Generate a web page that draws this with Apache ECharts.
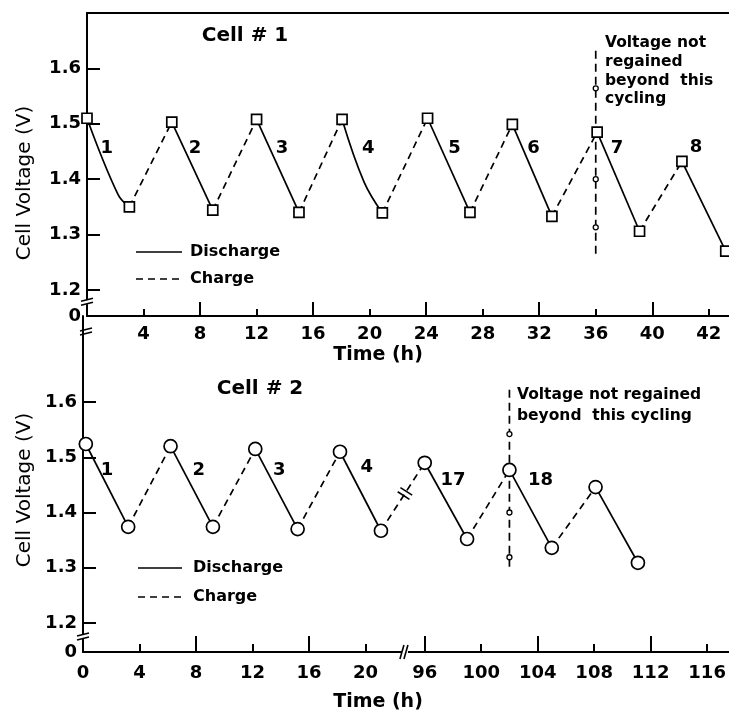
<!DOCTYPE html>
<html><head><meta charset="utf-8">
<script src="https://cdn.jsdelivr.net/npm/echarts@6/dist/echarts.min.js"></script>
<style>html,body{margin:0;padding:0;background:#fff}#c{width:729px;height:712px}</style>
</head><body><div id="c"></div>
<script>
// ---------- Cell #1 (top panel) ----------
const cell1Time = [0, 3.0, 6.0, 8.9, 12.0, 15.0, 18.05, 20.9, 24.1, 27.1, 30.1, 32.9, 36.1, 39.1, 42.1, 45.2];
const cell1Volt = [1.51, 1.35, 1.503, 1.344, 1.508, 1.34, 1.508, 1.339, 1.51, 1.34, 1.499, 1.333, 1.485, 1.306, 1.432, 1.27];
// bend points on curved discharge segments: [segment index, time, voltage]
const cell1Bends = [[0, 2.2, 1.372], [6, 19.6, 1.395]];
const cell1CycleNames = ['1', '2', '3', '4', '5', '6', '7', '8'];
const cell1CycleTime = [1.4, 7.64, 13.8, 19.9, 26.0, 31.6, 37.5, 43.1];
const cell1CycleVolt = [1.456, 1.456, 1.456, 1.456, 1.456, 1.456, 1.456, 1.458];
const cell1LimitTime = 36;
const cell1LimitSpan = [1.632, 1.26];
const cell1LimitDots = [1.564, 1.40, 1.313];
const cell1TickValues = [4, 8, 12, 16, 20, 24, 28, 32, 36, 40, 44];
const cell1TickLabels = ['4', '8', '12', '16', '20', '24', '28', '32', '36', '40', '42'];

// ---------- Cell #2 (bottom panel) ----------
const cell2Time = [0.2, 3.2, 6.2, 9.2, 12.2, 15.2, 18.2, 21.1, 96.0, 99.0, 102.0, 105.0, 108.1, 111.1];
const cell2Volt = [1.524, 1.374, 1.52, 1.374, 1.515, 1.37, 1.51, 1.367, 1.49, 1.352, 1.477, 1.336, 1.446, 1.309];
const cell2CycleNames = ['1', '2', '3', '4', '17', '18'];
const cell2CycleTime = [1.7, 8.2, 13.9, 20.1, 98.0, 104.2];
const cell2CycleVolt = [1.477, 1.477, 1.477, 1.482, 1.459, 1.459];
const cell2LimitTime = 102;
const cell2LimitSpan = [1.622, 1.296];
const cell2LimitDots = [1.542, 1.40, 1.319];
const cell2TickValues = [0, 4, 8, 12, 16, 20, 96, 100, 104, 108, 112, 116];
const cell2TickLabels = ['0', '4', '8', '12', '16', '20', '96', '100', '104', '108', '112', '116'];

const yTickValues = [1.2, 1.3, 1.4, 1.5, 1.6];
const yTickLabels = ['1.2', '1.3', '1.4', '1.5', '1.6'];

// ---------- layout constants ----------
const FONT = 'DejaVu Sans';
const BLACK = '#000';
const TOP_YMIN = 1.153, TOP_YMAX = 1.70;
const BOT_YMIN = 1.1475, BOT_YMAX = 1.7557;
const TOP_XMAX = 45.43, BOT_XMAX = 45.75;
const GAP_SHIFT = 71.8;      // time removed by the axis break in the bottom panel
const GAP_AT = 22.8;          // compressed time where the break marks sit
const mapT2 = t => (t > 50 ? t - GAP_SHIFT : t);
const unmapT2 = v => (v > 23 ? v + GAP_SHIFT : v);
const idT = t => t;
const F = (size, weight) => (weight || 'bold') + ' ' + size + 'px "' + FONT + '"';

function lookup(values, labels) {
  return v => {
    for (let i = 0; i < values.length; i++) if (Math.abs(values[i] - v) < 1e-6) return labels[i];
    return '';
  };
}

function segmentSeries(times, volts, mapX, xi, yi, bends) {
  const out = [];
  for (let i = 0; i < times.length - 1; i++) {
    const discharge = i % 2 === 0;
    const pts = [[mapX(times[i]), volts[i]]];
    bends.filter(b => b[0] === i).forEach(b => pts.push([mapX(b[1]), b[2]]));
    pts.push([mapX(times[i + 1]), volts[i + 1]]);
    out.push({
      type: 'line', name: discharge ? 'Discharge' : 'Charge',
      xAxisIndex: xi, yAxisIndex: yi, data: pts, symbol: 'none',
      smooth: pts.length > 2 ? 0.4 : false, silent: true, z: 3,
      lineStyle: { color: BLACK, width: 1.7, type: discharge ? 'solid' : [7, 5] }
    });
  }
  return out;
}

function markerSeries(times, volts, mapX, xi, yi, symbol, size) {
  return {
    type: 'scatter', xAxisIndex: xi, yAxisIndex: yi, symbol: symbol, symbolSize: size, z: 5, silent: true,
    data: times.map((t, i) => [mapX(t), volts[i]]),
    itemStyle: { color: '#fff', borderColor: BLACK, borderWidth: 1.7, opacity: 1 }
  };
}

function cycleLabelSeries(names, times, volts, mapX, xi, yi) {
  return {
    type: 'scatter', xAxisIndex: xi, yAxisIndex: yi, symbolSize: 1, z: 6, silent: true,
    itemStyle: { color: '#fff', opacity: 1 },
    data: times.map((t, i) => [mapX(t), volts[i]]),
    label: { show: true, position: [0.5, 0.5], align: 'center', verticalAlign: 'middle',
      formatter: p => names[p.dataIndex],
      fontFamily: FONT, fontSize: 18, fontWeight: 'bold', color: '#000', textBorderWidth: 0 }
  };
}

function limitSeries(time, span, dots, mapX, xi, yi) {
  return [
    { type: 'line', xAxisIndex: xi, yAxisIndex: yi, symbol: 'none', silent: true, z: 4,
      data: [[mapX(time), span[0]], [mapX(time), span[1]]],
      lineStyle: { color: BLACK, width: 1.7, type: [8, 5] } },
    { type: 'scatter', xAxisIndex: xi, yAxisIndex: yi, symbol: 'circle', symbolSize: 5, z: 6, silent: true,
      data: dots.map(v => [mapX(time), v]),
      itemStyle: { color: '#fff', borderColor: BLACK, borderWidth: 1.3, opacity: 1 } }
  ];
}

const labelFont = { fontFamily: FONT, fontSize: 18, fontWeight: 'bold', color: BLACK };
const axisLineStyle = { color: BLACK, width: 2 };

function xAxes(grid, max, values, labels, shortLen, longLen, margin, inv) {
  const isLong = v => v > 0 && Math.round(inv(v)) % 8 === 0;
  const ticks = values.filter(v => v > 0);
  return [
    { type: 'value', gridIndex: grid, min: 0, max: max, position: 'bottom',
      axisLine: { show: true, onZero: false, lineStyle: axisLineStyle },
      axisTick: { show: true, inside: true, length: shortLen, customValues: ticks.filter(v => !isLong(v)), lineStyle: axisLineStyle },
      axisLabel: { show: true, customValues: values, formatter: lookup(values, labels), margin: margin, ...labelFont },
      splitLine: { show: false } },
    { type: 'value', gridIndex: grid, min: 0, max: max, position: 'bottom',
      axisLine: { show: false },
      axisTick: { show: true, inside: true, length: longLen, customValues: ticks.filter(v => isLong(v)), lineStyle: axisLineStyle },
      axisLabel: { show: false }, splitLine: { show: false } }
  ];
}

function yAxis(grid, min, max) {
  const vals = [min].concat(yTickValues);
  const labs = ['0'].concat(yTickLabels);
  return { type: 'value', gridIndex: grid, min: min, max: max,
    axisLine: { show: true, onZero: false, lineStyle: axisLineStyle },
    axisTick: { show: true, inside: true, length: 13, customValues: yTickValues, lineStyle: axisLineStyle },
    axisLabel: { show: true, customValues: vals, formatter: lookup(vals, labs), margin: 6, ...labelFont },
    splitLine: { show: false } };
}

const topXAxes = xAxes(0, TOP_XMAX, cell1TickValues, cell1TickLabels, 7, 14, 9, idT);
const botXAxes = xAxes(1, BOT_XMAX, cell2TickValues.map(mapT2), cell2TickLabels, 8, 16, 12, unmapT2);
const topFrame = { type: 'value', gridIndex: 0, min: 0, max: TOP_XMAX, position: 'top',
  axisLine: { show: true, onZero: false, lineStyle: axisLineStyle }, axisTick: { show: false }, axisLabel: { show: false }, splitLine: { show: false } };

const series = [].concat(
  segmentSeries(cell1Time, cell1Volt, idT, 0, 0, cell1Bends),
  [markerSeries(cell1Time, cell1Volt, idT, 0, 0, 'rect', 10)],
  [cycleLabelSeries(cell1CycleNames, cell1CycleTime, cell1CycleVolt, idT, 0, 0)],
  limitSeries(cell1LimitTime, cell1LimitSpan, cell1LimitDots, idT, 0, 0),
  segmentSeries(cell2Time, cell2Volt, mapT2, 3, 1, []),
  [markerSeries(cell2Time, cell2Volt, mapT2, 3, 1, 'circle', 13)],
  [cycleLabelSeries(cell2CycleNames, cell2CycleTime, cell2CycleVolt, mapT2, 3, 1)],
  limitSeries(cell2LimitTime, cell2LimitSpan, cell2LimitDots, mapT2, 3, 1)
);

const option = {
  animation: false,
  backgroundColor: '#fff',
  grid: [
    { left: 87, top: 13, right: 0, height: 303, outerBoundsMode: 'none', containLabel: false },
    { left: 83, top: 316, right: 0, height: 336, outerBoundsMode: 'none', containLabel: false }
  ],
  xAxis: [topXAxes[0], topXAxes[1], topFrame, botXAxes[0], botXAxes[1]],
  yAxis: [yAxis(0, TOP_YMIN, TOP_YMAX), yAxis(1, BOT_YMIN, BOT_YMAX)],
  series: series
};

const chart = echarts.init(document.getElementById('c'));
chart.setOption(option);

// ---------- decorations: texts, legends, break marks ----------
const p1 = v => chart.convertToPixel({ xAxisIndex: 0, yAxisIndex: 0 }, v);
const p2 = v => chart.convertToPixel({ xAxisIndex: 3, yAxisIndex: 1 }, v);
const g = [];
function text(str, x, y, font, align, vAlign, extraStyle, extra) {
  g.push(Object.assign({ type: 'text', x: x, y: y, silent: true, z: 10,
    style: Object.assign({ text: str, font: font, fill: BLACK, textAlign: align || 'left', textVerticalAlign: vAlign || 'middle' }, extraStyle || {}) }, extra || {}));
}
function seg(x1, y1, x2, y2, w, dash) {
  g.push({ type: 'line', silent: true, z: 10,
    shape: { x1: x1, y1: y1, x2: x2, y2: y2 },
    style: { stroke: BLACK, lineWidth: w || 1.7, lineDash: dash || null } });
}
function yBreak(x, y) {
  g.push({ type: 'rect', silent: true, z: 9, shape: { x: x - 2, y: y - 2, width: 4, height: 4 }, style: { fill: '#fff' } });
  seg(x - 6, y - 1, x + 6, y - 4, 1.6);
  seg(x - 6, y + 3, x + 6, y, 1.6);
}

// titles
text('Cell # 1', 245, 36, F(20), 'center');
text('Cell # 2', 260, 389, F(20), 'center');
// axis names
text('Cell Voltage (V)', 25, 183, F(20, 'normal'), 'center', 'middle', null, { rotation: Math.PI / 2 });
text('Cell Voltage (V)', 25, 490, F(20, 'normal'), 'center', 'middle', null, { rotation: Math.PI / 2 });
text('Time (h)', 378, 355, F(19), 'center');
text('Time (h)', 378, 702, F(19), 'center');
// annotations
text('Voltage not\nregained\nbeyond  this\ncycling', 605, 34, F(15.5), 'left', 'top', { lineHeight: 18.7 });
text('Voltage not regained\nbeyond  this cycling', 517, 384, F(15.5), 'left', 'top', { lineHeight: 21 });
// legends
[[136, 252, 279, 190], [138, 568, 597, 193]].forEach(L => {
  seg(L[0], L[1], 182, L[1], 1.7);
  seg(L[0], L[2], 182, L[2], 1.7, [7, 5]);
  text('Discharge', L[3], L[1], F(16));
  text('Charge', L[3], L[2], F(16));
});
// axis break marks
const topAxisBase = p1([0, TOP_YMIN]);
yBreak(topAxisBase[0], p1([0, 1.178])[1]);
yBreak(topAxisBase[0] - 1, topAxisBase[1] + 16);
const botBase = p2([0, BOT_YMIN]);
yBreak(botBase[0], p2([0, 1.1747])[1]);
const xb = p2([GAP_AT, BOT_YMIN]);
g.push({ type: 'rect', silent: true, z: 9, shape: { x: xb[0] - 3, y: xb[1] - 2, width: 6, height: 4 }, style: { fill: '#fff' } });
seg(xb[0] - 5, xb[1] + 7, xb[0] - 1, xb[1] - 7, 1.6);
seg(xb[0] - 1, xb[1] + 7, xb[0] + 3, xb[1] - 7, 1.6);
// break on the charge line crossing the gap (segment 7 -> 8)
const a = p2([mapT2(cell2Time[7]), cell2Volt[7]]);
const b = p2([mapT2(cell2Time[8]), cell2Volt[8]]);
const f = (xb[0] - a[0]) / (b[0] - a[0]);
const cx = a[0] + (b[0] - a[0]) * f, cy = a[1] + (b[1] - a[1]) * f;
const len = Math.hypot(b[0] - a[0], b[1] - a[1]);
const ux = (b[0] - a[0]) / len, uy = (b[1] - a[1]) / len;
const nx = -uy, ny = ux;
[-2.5, 2.5].forEach(o => {
  const mx = cx + ux * o, my = cy + uy * o;
  seg(mx - nx * 7, my - ny * 7, mx + nx * 7, my + ny * 7, 1.6);
});

chart.setOption({ graphic: g });
</script>
</body></html>
